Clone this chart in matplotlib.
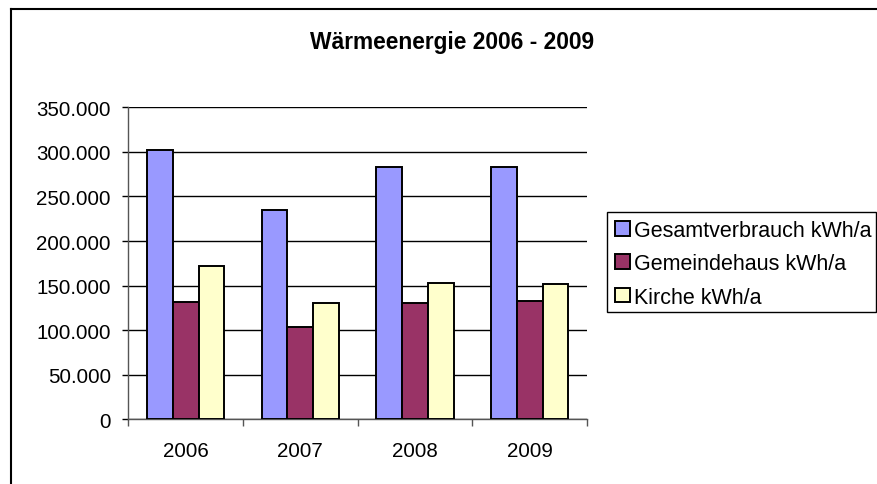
import numpy as np
import matplotlib.pyplot as plt
from matplotlib.lines import Line2D
from matplotlib.patches import Rectangle
from matplotlib.ticker import FuncFormatter

plt.rcParams['font.family'] = ['Liberation Sans', 'DejaVu Sans']

# Data
years = ['2006', '2007', '2008', '2009']
gesamt = [302300, 234500, 282700, 283500]
gemeindehaus = [131300, 104000, 130100, 132400]
kirche = [171700, 130100, 152600, 151500]

series = [
    (gesamt, 'Gesamtverbrauch kWh/a', '#9999FF'),
    (gemeindehaus, 'Gemeindehaus kWh/a', '#993366'),
    (kirche, 'Kirche kWh/a', '#FFFFCC'),
]

W, H = 877, 485
fig = plt.figure(figsize=(W / 100, H / 100), dpi=100)
ax = fig.add_axes([0.1463, 0.1334, 0.523, 0.6433])

x = np.arange(len(years))
w = 0.225
for i, (vals, label, color) in enumerate(series):
    ax.bar(x + (i - 1) * w, vals, width=w, color=color, edgecolor='black',
           linewidth=1.4, label=label, zorder=3)

ax.set_xlim(-0.5, len(years) - 0.5)
ax.set_ylim(0, 350000)
ax.set_yticks(np.arange(0, 350001, 50000))
ax.yaxis.set_major_formatter(FuncFormatter(lambda v, p: f'{int(v):,}'.replace(',', '.')))
ax.grid(axis='y', color='black', linewidth=1.0, zorder=0)

# category boundaries as major ticks, labels at centres
ax.set_xticks(np.arange(-0.5, len(years), 1.0))
ax.set_xticklabels([])
ax.set_xticks(x, minor=True)
ax.set_xticklabels(years, minor=True)
ax.tick_params(axis='x', which='major', direction='out', length=5, width=1, color='#555555')
ax.tick_params(axis='x', which='minor', length=0, pad=15.5, labelsize=14.8)
ax.tick_params(axis='y', direction='out', length=4, width=1, pad=8.5, labelsize=14.8)

for s in ['top', 'right']:
    ax.spines[s].set_visible(False)
for s in ['left', 'bottom']:
    ax.spines[s].set_color('#555555')
    ax.spines[s].set_linewidth(1.0)

fig.text(0.516, 0.912, 'Wärmeenergie 2006 - 2009', ha='center', va='center',
         fontsize=16.4, fontweight='bold')

# legend box drawn by hand so its size matches the original
fig.add_artist(Rectangle((607 / W, 1 - 313 / H), 269 / W, 100 / H,
                         transform=fig.transFigure, facecolor='none',
                         edgecolor='black', linewidth=1.0))
ax.legend(loc='upper left', bbox_to_anchor=(615 / W, 1 - 221 / H),
          bbox_transform=fig.transFigure, fontsize=15.5, frameon=False,
          handlelength=0.68, handleheight=0.68, handletextpad=0.2,
          borderpad=0, labelspacing=0.57, borderaxespad=0)

# outer chart border (only left and top visible in the crop)
fig.add_artist(Line2D([0.0125, 0.0125], [0.0, 0.9794], transform=fig.transFigure,
                      color='black', linewidth=1.5))
fig.add_artist(Line2D([0.0125, 1.0], [0.9794, 0.9794], transform=fig.transFigure,
                      color='black', linewidth=1.5))

fig.savefig('out.png', dpi=100)
